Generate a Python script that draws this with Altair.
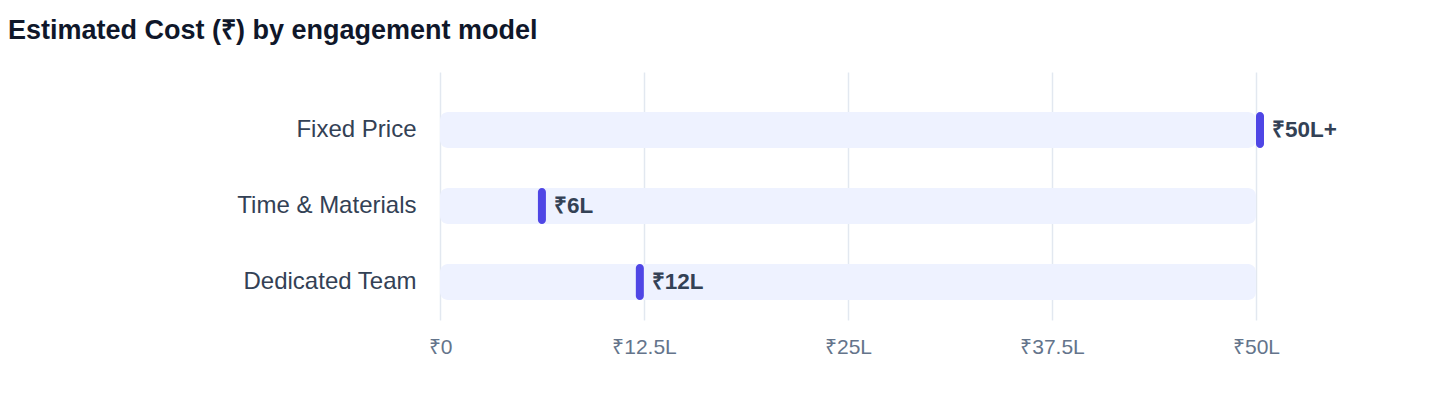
import altair as alt
import pandas as pd

# ---- data ----
models = ["Fixed Price", "Time & Materials", "Dedicated Team"]
cost_lakh = [50, 6, 12]
value_labels = ["₹50L+", "₹6L", "₹12L"]
track_max = [50, 50, 50]
tick_values = [0, 12.5, 25, 37.5, 50]
tick_labels = ["₹0", "₹12.5L", "₹25L", "₹37.5L", "₹50L"]

df = pd.DataFrame({
    "model": models,
    "cost": cost_lakh,
    "label": value_labels,
    "track": track_max,
})

label_expr = "[" + ",".join("'" + t + "'" for t in tick_labels) + "][indexof([" + \
    ",".join(str(v) for v in tick_values) + "], datum.value)]"

FONT = "Liberation Sans, Arial, Helvetica, sans-serif"

x_scale = alt.Scale(domain=[0, 50], nice=False)
y_enc = alt.Y(
    "model:N",
    sort=models,
    scale=alt.Scale(paddingInner=0.526, paddingOuter=0.395, align=0.667),
    axis=alt.Axis(
        title=None, ticks=False, domain=False, grid=False,
        labelFontSize=24, labelColor="#334155", labelPadding=24, labelFont=FONT,
    ),
)

base = alt.Chart(df)

track = base.mark_bar(color="#eef2ff", cornerRadius=8).encode(
    x=alt.X(
        "track:Q",
        scale=x_scale,
        axis=alt.Axis(
            title=None, values=tick_values, labelExpr=label_expr,
            grid=True, gridColor="#e2e8f0", gridWidth=1.5,
            domain=False, ticks=False, labelFlush=False,
            labelFontSize=21, labelColor="#64748b", labelPadding=16, labelFont=FONT,
        ),
    ),
    y=y_enc,
)

marker = base.mark_bar(color="#4f46e5", cornerRadius=4, x2Offset=8).encode(
    x=alt.X("cost:Q", scale=x_scale),
    x2="cost:Q",
    y=y_enc,
)

text = base.mark_text(
    align="left", baseline="middle", dx=16, fontSize=22.5, fontWeight="bold",
    color="#334155", font=FONT,
).encode(
    x=alt.X("cost:Q", scale=x_scale),
    y=y_enc,
    text="label:N",
)

chart = alt.layer(track, marker, text).properties(
    width=816,
    height=248,
    autosize=alt.AutoSizeParams(type="none"),
    padding={"left": 432, "top": 64, "right": 170, "bottom": 70},
    title=alt.TitleParams(
        "Estimated Cost (₹) by engagement model",
        anchor="start", frame="group", dx=-432, offset=27, fontSize=27,
        fontWeight="bold", color="#0f172a", font=FONT,
    ),
).configure_view(stroke=None)

chart.save("out.html", embed_options={"renderer": "svg", "actions": False})
